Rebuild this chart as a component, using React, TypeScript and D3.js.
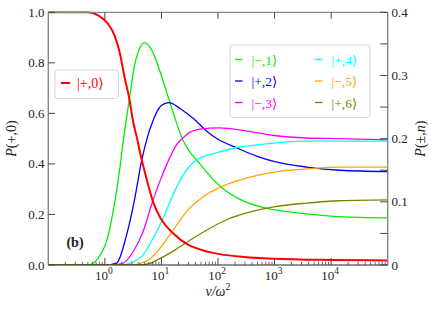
import React from 'react';
import * as d3 from 'd3';

// [v/ω², P]; red uses the left axis, the rest the right axis
const plus0: [number, number][] = [
  [0.1, 1], [0.5, 1], [0.76, 0.988], [1.13, 0.955], [1.48, 0.909], [1.82, 0.843],
  [2.22, 0.745], [2.72, 0.655], [3.16, 0.567], [3.72, 0.5], [4.14, 0.45],
  [5.43, 0.343], [7.11, 0.25], [9.77, 0.183], [16.6, 0.123], [28.8, 0.082],
  [45, 0.064], [74, 0.05], [107, 0.043], [286, 0.032], [968, 0.025], [1e4, 0.02], [1e5, 0.018],
];
const minus1: [number, number][] = [
  [0.1, 0], [0.5, 0], [0.76, 0.011], [1.13, 0.045], [1.48, 0.097], [1.82, 0.15],
  [2.2, 0.208], [2.72, 0.263], [3.34, 0.316], [4.07, 0.342], [5.0, 0.352],
  [6.56, 0.342], [9.8, 0.302], [14.6, 0.253], [23.4, 0.2], [49, 0.159],
  [119, 0.122], [286, 0.101], [968, 0.0875], [3700, 0.081], [14350, 0.0765], [1e5, 0.0745],
];
const plus2: [number, number][] = [
  [0.1, 0], [1.0, 0], [1.61, 0.003], [2.41, 0.047], [3.39, 0.106], [4.44, 0.164],
  [5.81, 0.206], [6.67, 0.222], [9.84, 0.252], [13.6, 0.257], [21.9, 0.247],
  [37.6, 0.231], [64.6, 0.211], [100, 0.199], [219, 0.185], [493, 0.172],
  [968, 0.164], [3700, 0.155], [14350, 0.15], [1e5, 0.148],
];
const minus3: [number, number][] = [
  [0.1, 0], [1.3, 0], [2.1, 0.003], [3.16, 0.021], [4.74, 0.053], [6.67, 0.095],
  [9.33, 0.132], [13.1, 0.164], [18.4, 0.19], [27.5, 0.206], [47.3, 0.215],
  [107, 0.217], [329, 0.212], [968, 0.205], [3700, 0.201], [14350, 0.2], [1e5, 0.198],
];
const plus4: [number, number][] = [
  [0.1, 0], [2.0, 0], [2.76, 0.003], [4.74, 0.016], [7.11, 0.042], [10.7, 0.074],
  [16.0, 0.111], [24.0, 0.142], [41.4, 0.166], [97, 0.178], [219, 0.186],
  [490, 0.19], [968, 0.193], [3700, 0.196], [1e5, 0.196],
];
const minus5: [number, number][] = [
  [0.1, 0], [3.0, 0], [4.14, 0.002], [6.3, 0.01], [9.33, 0.026], [16.3, 0.056],
  [28, 0.085], [55, 0.108], [115, 0.124], [329, 0.138], [968, 0.147],
  [3700, 0.152], [14350, 0.155], [1e5, 0.155],
];
const plus6: [number, number][] = [
  [0.1, 0], [4.0, 0], [6.0, 0.002], [9.33, 0.01], [17.5, 0.024], [33, 0.04],
  [68, 0.057], [145, 0.072], [376, 0.084], [968, 0.092], [3700, 0.098],
  [14350, 0.1017], [1e5, 0.103],
];

const rightSeries = [
  { label: '|−,1⟩', color: '#00ee00', data: minus1 },
  { label: '|+,2⟩', color: '#0000ff', data: plus2 },
  { label: '|−,3⟩', color: '#ff00ff', data: minus3 },
  { label: '|+,4⟩', color: '#00ffff', data: plus4 },
  { label: '|−,5⟩', color: '#ffa500', data: minus5 },
  { label: '|+,6⟩', color: '#808000', data: plus6 },
];

const leftTicks = [0, 0.2, 0.4, 0.6, 0.8, 1.0];
const rightTicks = [0, 0.1, 0.2, 0.3, 0.4];
const rightMinor = [0.05, 0.15, 0.25, 0.35];
const decades = [0, 1, 2, 3, 4];

const W = 436;
const H = 309;
const L = 48.3, R = 387.7, T = 12.3, B = 265;
const serif = '"Liberation Serif", "DejaVu Serif", serif';

export default function App() {
  const x = d3.scaleLog().domain([0.1, 1e5]).range([L, R]);
  const yL = d3.scaleLinear().domain([0, 1]).range([B, T]);
  const yR = d3.scaleLinear().domain([0, 0.4]).range([B, T]);

  const lineL = d3.line<[number, number]>().x(d => x(d[0])).y(d => yL(d[1])).curve(d3.curveMonotoneX);
  const lineR = d3.line<[number, number]>().x(d => x(d[0])).y(d => yR(d[1])).curve(d3.curveMonotoneX);

  const minor: number[] = [];
  for (let e = -1; e <= 4; e++) for (let k = 2; k <= 9; k++) minor.push(k * Math.pow(10, e));

  return (
    <svg width={W} height={H} style={{ position: 'absolute', left: 0, top: 0, background: '#fff' }}
      fontFamily={serif}>
      <defs>
        <clipPath id="plot"><rect x={L} y={T - 1} width={R - L} height={B - T + 1} /></clipPath>
      </defs>

      <g clipPath="url(#plot)" fill="none">
        {rightSeries.map(s => (
          <path key={s.label} d={lineR(s.data) || ''} stroke={s.color} strokeWidth={1.3} />
        ))}
        <path d={lineL(plus0) || ''} stroke="#ff0000" strokeWidth={2} />
      </g>

      {/* spines */}
      <line x1={L} x2={L} y1={T} y2={B} stroke="#888" strokeWidth={1.4} />
      <line x1={R} x2={R} y1={T} y2={B} stroke="#888" strokeWidth={1.4} />
      <line x1={L} x2={R} y1={T} y2={T} stroke="#888" strokeWidth={1.2} />
      <line x1={L} x2={R} y1={B} y2={B} stroke="#222" strokeWidth={1.2} />

      {/* x ticks */}
      {minor.map(v => (
        <line key={'m' + v} x1={x(v)} x2={x(v)} y1={B} y2={B - 3.3} stroke="#444" strokeWidth={0.8} />
      ))}
      {decades.map(e => (
        <g key={'d' + e}>
          <line x1={x(Math.pow(10, e))} x2={x(Math.pow(10, e))} y1={B} y2={B - 7} stroke="#444" strokeWidth={1} />
          <line x1={x(Math.pow(10, e))} x2={x(Math.pow(10, e))} y1={T} y2={T + 6.5} stroke="#444" strokeWidth={1} />
          <text x={x(Math.pow(10, e)) - 1} y={280} fontSize={13} textAnchor="middle" fill="#222">
            10<tspan dy={-6} fontSize={9.5}>{e}</tspan>
          </text>
        </g>
      ))}

      {/* left y ticks */}
      {leftTicks.map(t => (
        <g key={'l' + t}>
          <line x1={L} x2={L + 6.7} y1={yL(t)} y2={yL(t)} stroke="#444" strokeWidth={1} />
          <text x={44.5} y={yL(t) + 4.5} fontSize={13} textAnchor="end" fill="#222">{t.toFixed(1)}</text>
        </g>
      ))}

      {/* right y ticks */}
      {rightTicks.map(t => (
        <g key={'r' + t}>
          <line x1={R - 7.5} x2={R} y1={yR(t)} y2={yR(t)} stroke="#444" strokeWidth={1} />
          <text x={391.5} y={yR(t) + 4.5} fontSize={13} fill="#222">{t === 0 ? '0' : t.toFixed(1)}</text>
        </g>
      ))}
      {rightMinor.map(t => (
        <line key={'rm' + t} x1={R - 7.5} x2={R} y1={yR(t)} y2={yR(t)} stroke="#444" strokeWidth={1} />
      ))}

      {/* axis labels */}
      <text x={218} y={296} fontSize={14} textAnchor="middle" fill="#222" fontStyle="italic">
        v/ω<tspan dy={-6} fontSize={10} fontStyle="normal">2</tspan>
      </text>
      <text transform="translate(16,138.6) rotate(-90)" fontSize={14} textAnchor="middle" fill="#222">
        <tspan fontStyle="italic">P</tspan>(+,0)
      </text>
      <text transform="translate(425,138.6) rotate(-90)" fontSize={14} textAnchor="middle" fill="#222">
        <tspan fontStyle="italic">P</tspan>(±,<tspan fontStyle="italic">n</tspan>)
      </text>

      <text x={75} y={247} fontSize={14} fontWeight="bold" textAnchor="middle" fill="#222">(b)</text>

      {/* legend for |+,0> */}
      <rect x={55} y={70} width={63.5} height={28.5} rx={3} fill="#fff" fillOpacity={0.85} stroke="#d6d6d6" strokeWidth={1} />
      <line x1={61} x2={70} y1={83} y2={83} stroke="#ff0000" strokeWidth={2} />
      <text x={77} y={88} fontSize={14} fill="#ff0000">|+,0⟩</text>

      {/* legend for the other states */}
      <rect x={230} y={45} width={140} height={72.5} rx={3} fill="#fff" fillOpacity={0.85} stroke="#d6d6d6" strokeWidth={1} />
      {rightSeries.map((s, i) => {
        const col = Math.floor(i / 3);
        const row = i % 3;
        const lx = col === 0 ? 235 : 315;
        const ly = 59.5 + row * 21.5;
        return (
          <g key={'lg' + s.label}>
            <line x1={lx} x2={lx + 7.5} y1={ly} y2={ly} stroke={s.color} strokeWidth={1.3} />
            <text x={lx + 16.5} y={ly + 5} fontSize={13.5} fill={s.color}>{s.label}</text>
          </g>
        );
      })}
    </svg>
  );
}
